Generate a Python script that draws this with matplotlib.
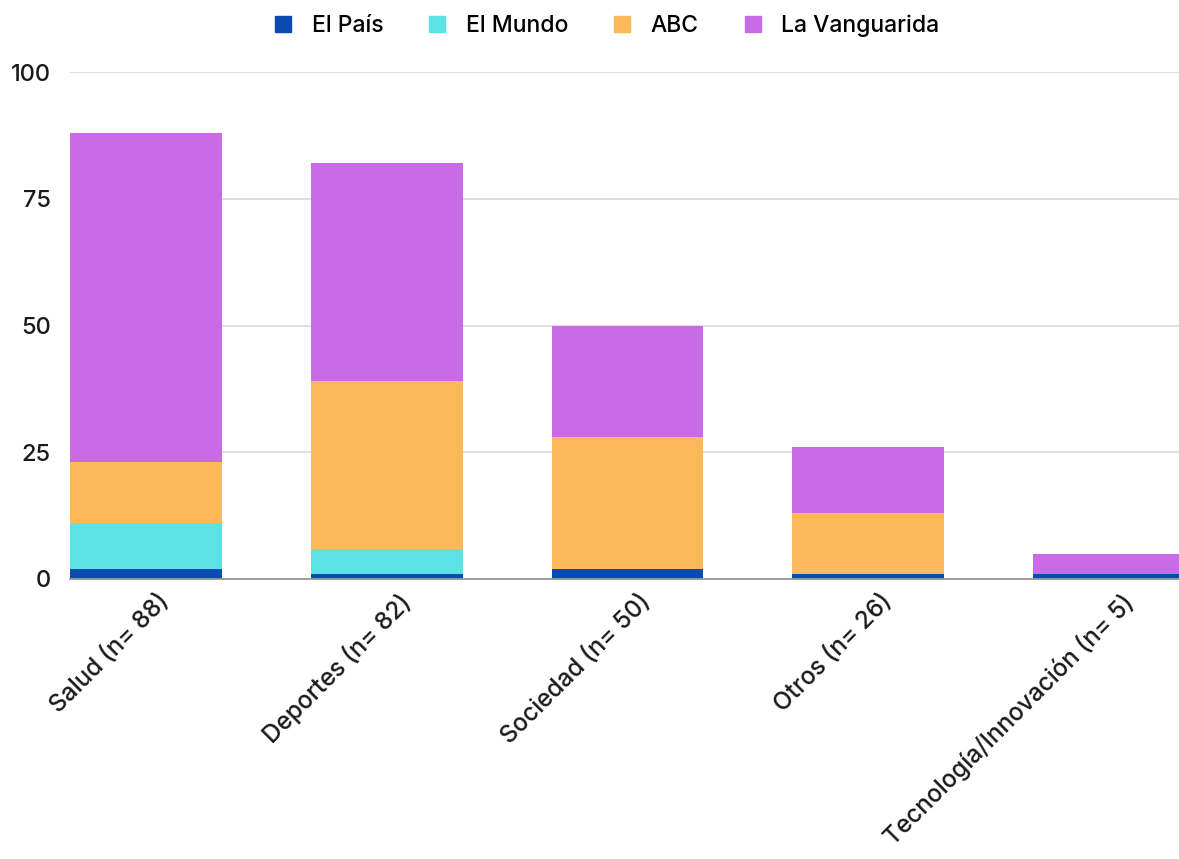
import numpy as np
import matplotlib.pyplot as plt
import matplotlib.transforms as mtransforms
from matplotlib.patches import Patch

plt.rcParams['font.family'] = ['Inter', 'DejaVu Sans']
plt.rcParams['font.weight'] = 'medium'

categories = ['Salud (n= 88)', 'Deportes (n= 82)', 'Sociedad (n= 50)',
              'Otros (n= 26)', 'Tecnología/Innovación (n= 5)']
el_pais = [2, 1, 2, 1, 1]
el_mundo = [9, 5, 0, 0, 0]
abc = [12, 33, 26, 12, 0]
la_vanguardia = [65, 43, 22, 13, 4]

series = [('El País', el_pais, '#0a4bb0'),
          ('El Mundo', el_mundo, '#5ce1e6'),
          ('ABC', abc, '#fdb85b'),
          ('La Vanguarida', la_vanguardia, '#c96be6')]

fig = plt.figure(figsize=(11.79, 8.59), dpi=100)
ax = fig.add_axes([0.0594, 0.326, 0.9406, 0.590])

x = np.arange(len(categories))
bottom = np.zeros(len(categories))
for name, vals, col in series:
    ax.bar(x, vals, 0.63, bottom=bottom, color=col, label=name, zorder=3)
    bottom += np.array(vals)

ax.set_xlim(-0.315, 4.29)
ax.set_ylim(0, 100)
ax.set_yticks([0, 25, 50, 75, 100])
ax.yaxis.grid(True, color='#dddddd', linewidth=1.3, zorder=0)
ax.set_axisbelow(True)
for s in ['top', 'right', 'left']:
    ax.spines[s].set_visible(False)
ax.spines['bottom'].set_color('#999999')
ax.spines['bottom'].set_linewidth(1.3)
ax.spines['bottom'].set_zorder(4)
ax.tick_params(axis='y', length=0, labelsize=17, pad=14, colors='#1a1a1a')
ax.tick_params(axis='x', length=0, labelsize=17.5, pad=8, colors='#1a1a1a')
ax.set_xticks(x)
ax.set_xticklabels(categories, rotation=45, ha='right', rotation_mode='anchor')
# shift labels right a bit so they end just past bar centre
offset = mtransforms.ScaledTranslation(0.12, 0, fig.dpi_scale_trans)
for lbl in ax.get_xticklabels():
    lbl.set_transform(lbl.get_transform() + offset)

handles = [Patch(color=c, label=n) for n, _, c in series]
fig.legend(handles=handles, loc='upper center', bbox_to_anchor=(0.515, 1.007),
           ncol=4, frameon=False, fontsize=16.5, handlelength=0.7,
           handleheight=0.7, columnspacing=2.0, handletextpad=0.9)

fig.savefig('out.png', dpi=100)
